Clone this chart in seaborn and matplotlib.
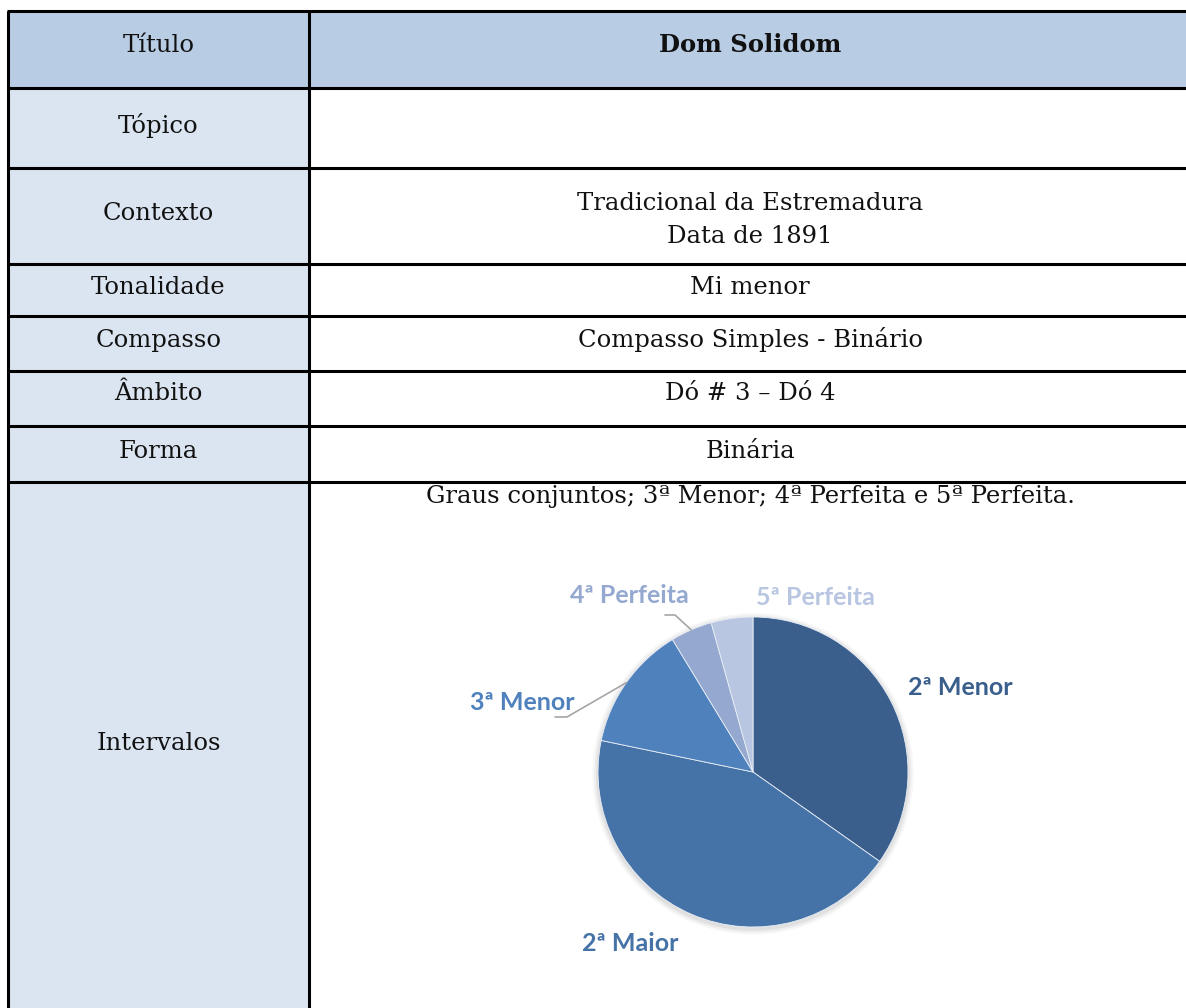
import numpy as np
import matplotlib
matplotlib.use("Agg")
import matplotlib.pyplot as plt
import seaborn as sns

# dados da ficha
row_labels = ["Título", "Tópico", "Contexto", "Tonalidade", "Compasso", "Âmbito", "Forma", "Intervalos"]
row_values = ["Dom Solidom", "", "Tradicional da Estremadura\nData de 1891", "Mi menor",
              "Compasso Simples - Binário", "Dó # 3 – Dó 4", "Binária",
              "Graus conjuntos; 3ª Menor; 4ª Perfeita e 5ª Perfeita."]

# dados do gráfico circular
intervals = ["2ª Menor", "2ª Maior", "3ª Menor", "4ª Perfeita", "5ª Perfeita"]
counts = [8, 10, 3, 1, 1]

sns.set_theme(style="white")
plt.rcParams['font.family'] = ['DejaVu Serif']

W, H = 1186, 1008
fig = plt.figure(figsize=(W / 100, H / 100), dpi=100)
ax = fig.add_axes([0, 0, 1, 1])
ax.set_xlim(0, W)
ax.set_ylim(H, 0)
ax.axis("off")

# layout da tabela (pixels)
row_edges = [11, 88, 168, 264, 316, 371, 426, 482, 1010]
x_left, x_div, x_right = 8, 309, 1200
label_y = [45, 125, 213, 287, 340, 394, 451, 744]
value_y = [45, 125, 220, 287, 340, 394, 451, 497]
head_col = "#B8CCE4"
side_col = "#DBE5F1"

for i in range(len(row_labels)):
    top, bot = row_edges[i], row_edges[i + 1]
    ax.add_patch(plt.Rectangle((x_left, top), x_div - x_left, bot - top,
                               color=head_col if i == 0 else side_col, lw=0))
    if i == 0:
        ax.add_patch(plt.Rectangle((x_div, top), x_right - x_div, bot - top, color=head_col, lw=0))

for y in row_edges[:-1]:
    ax.plot([x_left - 1.5, x_right], [y, y], color="black", lw=2.2, solid_capstyle="butt")
for x in (x_left, x_div):
    ax.plot([x, x], [row_edges[0], H + 5], color="black", lw=2.2, solid_capstyle="butt")

fs = 17.5
for i, (lab, val) in enumerate(zip(row_labels, row_values)):
    ax.text((x_left + x_div) / 2, label_y[i], lab, ha="center", va="center", fontsize=fs, color="#111111")
    lines = val.split("\n")
    for k, line in enumerate(lines):
        yy = value_y[i] + (k - (len(lines) - 1) / 2) * 33
        ax.text(750, yy, line, ha="center", va="center", fontsize=fs, color="#111111",
                fontweight="bold" if i == 0 else "normal")

# gráfico circular
cx, cy, r = 753, 772, 155
pax = fig.add_axes([(cx - r) / W, (H - cy - r) / H, 2 * r / W, 2 * r / H])

pie_colors = ["#3A5F8C", "#4673A7", "#4F81BD", "#95A9D0", "#B9C6E1"]
label_colors = ["#3A5F8C", "#4673A7", "#4F81BD", "#95A9D0", "#B9C6E1"]

# sombra suave
for k, a in enumerate([0.05, 0.04, 0.03]):
    pax.add_patch(plt.Circle((0, -0.012), 1.0 + 0.012 * (k + 1), color="black", alpha=a, lw=0,
                             zorder=0, clip_on=False))

wedges, _ = pax.pie(counts, colors=pie_colors, startangle=90, counterclock=False, radius=1,
                    wedgeprops=dict(lw=0.6, edgecolor="#E8EEF6"))
pax.set_xlim(-1, 1)
pax.set_ylim(-1, 1)
pax.axis("off")

label_pos = [(1.335, 0.545), (-0.79, -1.105), (-1.49, 0.45), (-0.80, 1.14), (0.40, 1.125)]
leader = {2: [(-1.277, 0.355), (-1.20, 0.355)], 3: [(-0.568, 1.013), (-0.503, 1.013)]}

for i, (name, w) in enumerate(zip(intervals, wedges)):
    pax.text(*label_pos[i], name, ha="center", va="center", fontsize=18, fontweight="bold",
             color=label_colors[i], family=["Lato", "DejaVu Sans"], clip_on=False)
    if i in leader:
        mid = np.deg2rad((w.theta1 + w.theta2) / 2)
        pts = leader[i] + [(np.cos(mid), np.sin(mid))]
        xs, ys = zip(*pts)
        pax.plot(xs, ys, color="#A6A6A6", lw=1.2, clip_on=False)

fig.savefig("out.png", dpi=100)
